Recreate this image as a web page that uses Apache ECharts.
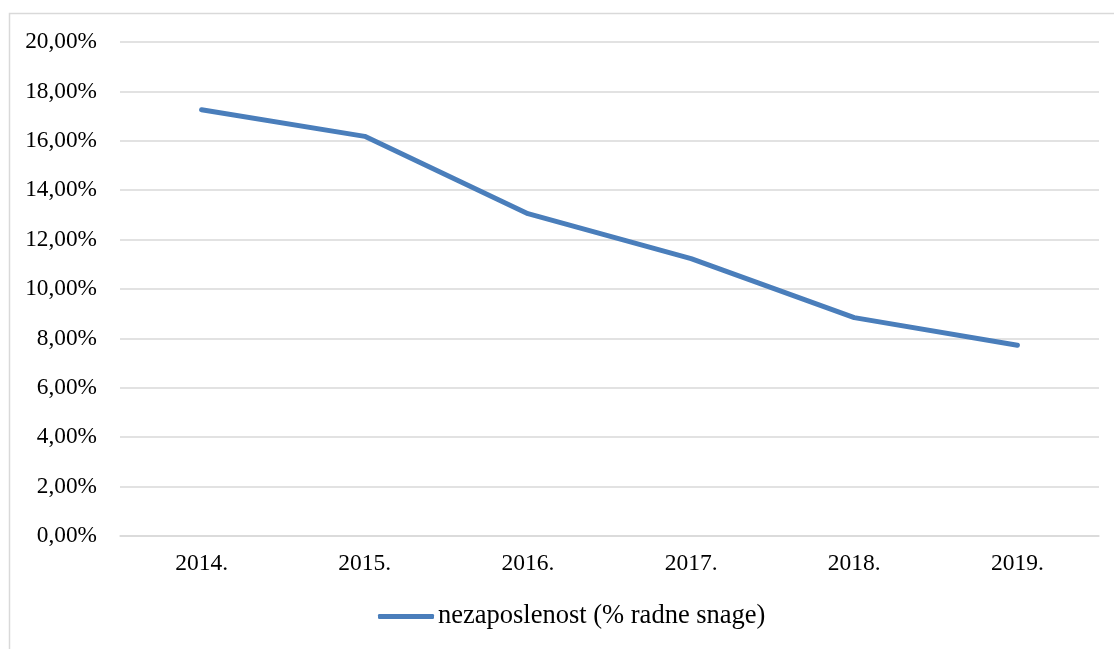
<!DOCTYPE html>
<html>
<head>
<meta charset="utf-8">
<script src="https://cdn.jsdelivr.net/npm/echarts@6/dist/echarts.min.js"></script>
<style>
html,body{margin:0;padding:0;background:#fff;}
#chart{width:1114px;height:649px;}
</style>
</head>
<body>
<div id="chart"></div>
<script>
const categories = ['2014.', '2015.', '2016.', '2017.', '2018.', '2019.'];
const seriesName = 'nezaposlenost (% radne snage)';
const unemployment = [17.26, 16.18, 13.05, 11.23, 8.84, 7.72];
const yTicks = { min: 0, max: 20, interval: 2 };

const chart = echarts.init(document.getElementById('chart'), null, { renderer: 'canvas' });
const serif = '"Liberation Serif", "Times New Roman", serif';
chart.setOption({
  animation: false,
  backgroundColor: '#ffffff',
  graphic: [{
    type: 'rect',
    shape: { x: 9.5, y: 13.5, width: 1200, height: 1000 },
    style: { fill: 'none', stroke: '#d9d9d9', lineWidth: 1.5 },
    silent: true
  }],
  grid: { left: 120, right: 15, top: 42, bottom: 113, containLabel: false },
  legend: {
    left: 378,
    top: 603,
    padding: 0,
    icon: 'roundRect',
    itemWidth: 56,
    itemHeight: 5,
    itemGap: 10,
    textStyle: { fontFamily: serif, fontSize: 26.5, color: '#000', padding: [0, 0, 0, -1] },
    data: [seriesName]
  },
  xAxis: {
    type: 'category',
    data: categories,
    boundaryGap: true,
    axisLine: { show: true, lineStyle: { color: '#d9d9d9', width: 1.5 } },
    axisTick: { show: false },
    axisLabel: { fontFamily: serif, fontSize: 23.5, color: '#000', margin: 16 }
  },
  yAxis: {
    type: 'value',
    min: yTicks.min,
    max: yTicks.max,
    interval: yTicks.interval,
    axisLine: { show: false },
    axisTick: { show: false },
    splitLine: { lineStyle: { color: '#d9d9d9', width: 1.5 } },
    axisLabel: {
      fontFamily: serif, fontSize: 23.3, color: '#000', margin: 23,
      formatter: v => v.toFixed(2).replace('.', ',') + '%'
    }
  },
  series: [{
    name: seriesName,
    type: 'line',
    data: unemployment,
    symbol: 'none',
    lineStyle: { color: '#4a7ebb', width: 5, cap: 'round', join: 'round' },
    itemStyle: { color: '#4a7ebb' }
  }]
});
</script>
</body>
</html>
